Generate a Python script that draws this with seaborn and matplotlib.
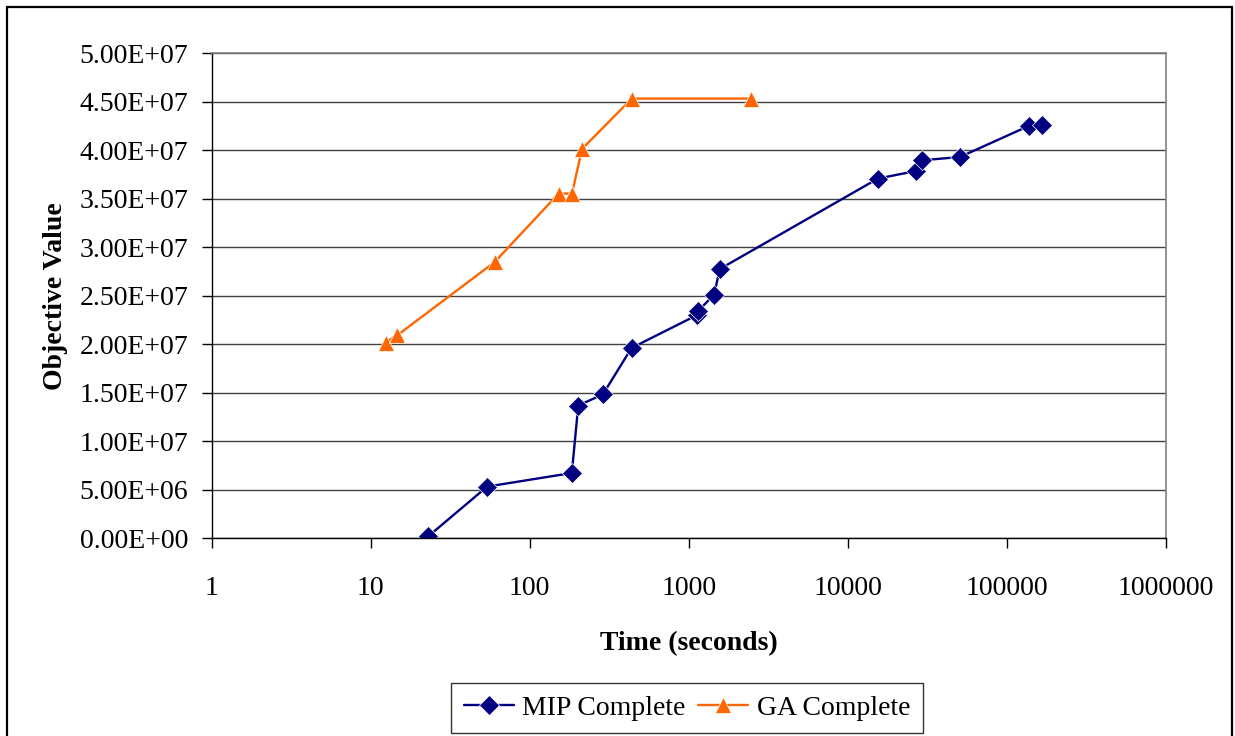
import matplotlib
matplotlib.use("Agg")
import matplotlib.pyplot as plt
import seaborn as sns
import pandas as pd
import numpy as np
from matplotlib.ticker import FixedLocator, FuncFormatter, NullLocator
from matplotlib.patches import Rectangle

# ---- data ----
mip_time = [23, 54, 184, 202, 289, 437, 1124, 1140, 1445, 1568,
            15460, 26880, 29300, 50800, 137600, 167800]
mip_obj = [2.0e5, 5.33e6, 6.73e6, 1.368e7, 1.485e7, 1.962e7, 2.30e7, 2.34e7,
           2.512e7, 2.776e7, 3.708e7, 3.787e7, 3.897e7, 3.931e7, 4.251e7, 4.261e7]
ga_time = [12.4, 14.7, 60.3, 152, 184.6, 213, 439, 2465]
ga_obj = [2.018e7, 2.093e7, 2.849e7, 3.554e7, 3.554e7, 4.013e7, 4.533e7, 4.533e7]

series_names = ["MIP Complete", "GA Complete"]
x_ticks = [1, 10, 100, 1000, 10000, 100000, 1000000]
y_ticks = [0, 5e6, 1e7, 1.5e7, 2e7, 2.5e7, 3e7, 3.5e7, 4e7, 4.5e7, 5e7]

df = pd.concat([
    pd.DataFrame({"time": mip_time, "obj": mip_obj, "series": series_names[0]}),
    pd.DataFrame({"time": ga_time, "obj": ga_obj, "series": series_names[1]}),
], ignore_index=True)

sns.set_style("white")
plt.rcParams["font.family"] = ["Liberation Serif", "DejaVu Serif"]
plt.rcParams["text.color"] = "black"
plt.rcParams["axes.labelcolor"] = "black"
plt.rcParams["xtick.color"] = "black"
plt.rcParams["ytick.color"] = "black"

FS = 20
W, H = 1235, 736
fig = plt.figure(figsize=(W / 100, H / 100), dpi=100)
left, right, top, bottom = 211.7, 1165.7, 53.3, 538.3
ax = fig.add_axes([left / W, 1 - bottom / H, (right - left) / W, (bottom - top) / H])
ax.set_xscale("log")

palette = {series_names[0]: "#000080", series_names[1]: "#FF6600"}
markers = {series_names[0]: "D", series_names[1]: "^"}
sns.lineplot(data=df, x="time", y="obj", hue="series", style="series",
             palette=palette, markers=markers, dashes=False, estimator=None,
             sort=True, linewidth=1.7, markersize=10, markeredgewidth=0.5,
             ax=ax, legend=True)
for line in ax.lines:
    if line.get_marker() == "^":
        line.set_markersize(12)
    elif line.get_marker() == "D":
        line.set_markersize(10)

ax.set_xlim(1, 1000000)
ax.set_ylim(0, 5e7)
ax.xaxis.set_major_locator(FixedLocator(x_ticks))
ax.xaxis.set_minor_locator(NullLocator())
ax.xaxis.set_major_formatter(FuncFormatter(lambda v, p: f"{int(round(v))}"))
ax.yaxis.set_major_locator(FixedLocator(y_ticks))
ax.yaxis.set_major_formatter(FuncFormatter(lambda v, p: f"{v:.2E}"))

ax.grid(axis="y", color="#404040", linewidth=1.0)
ax.grid(axis="x", visible=False)
ax.set_axisbelow(True)

for s in ["left", "bottom"]:
    ax.spines[s].set_color("black")
    ax.spines[s].set_linewidth(1.0)
for s in ["top", "right"]:
    ax.spines[s].set_color("#808080")
    ax.spines[s].set_linewidth(1.2)

ax.tick_params(axis="x", which="major", direction="out", length=7, width=1,
               color="black", pad=20, labelsize=FS, bottom=True)
ax.tick_params(axis="y", which="major", direction="out", length=7, width=1,
               color="black", pad=10, labelsize=FS, left=True)

ax.set_xlabel("Time (seconds)", fontsize=FS, fontweight="bold", labelpad=22)
ax.set_ylabel("Objective Value", fontsize=FS, fontweight="bold", labelpad=8)

leg = ax.legend(loc="center", bbox_to_anchor=(687 / W, 1 - 708 / H),
                bbox_transform=fig.transFigure, ncol=2, frameon=True,
                fancybox=False, edgecolor="black", fontsize=FS,
                handlelength=1.8, columnspacing=0.45, handletextpad=0.3,
                borderpad=0.45, borderaxespad=0)
leg.get_frame().set_linewidth(1.0)

# outer chart border
fig.patches.append(Rectangle((7 / W, -0.02), (1231.7 - 7) / W, 1 - 7 / H + 0.02,
                             transform=fig.transFigure, fill=False,
                             edgecolor="black", linewidth=1.6))

fig.savefig("out.png", dpi=100)
